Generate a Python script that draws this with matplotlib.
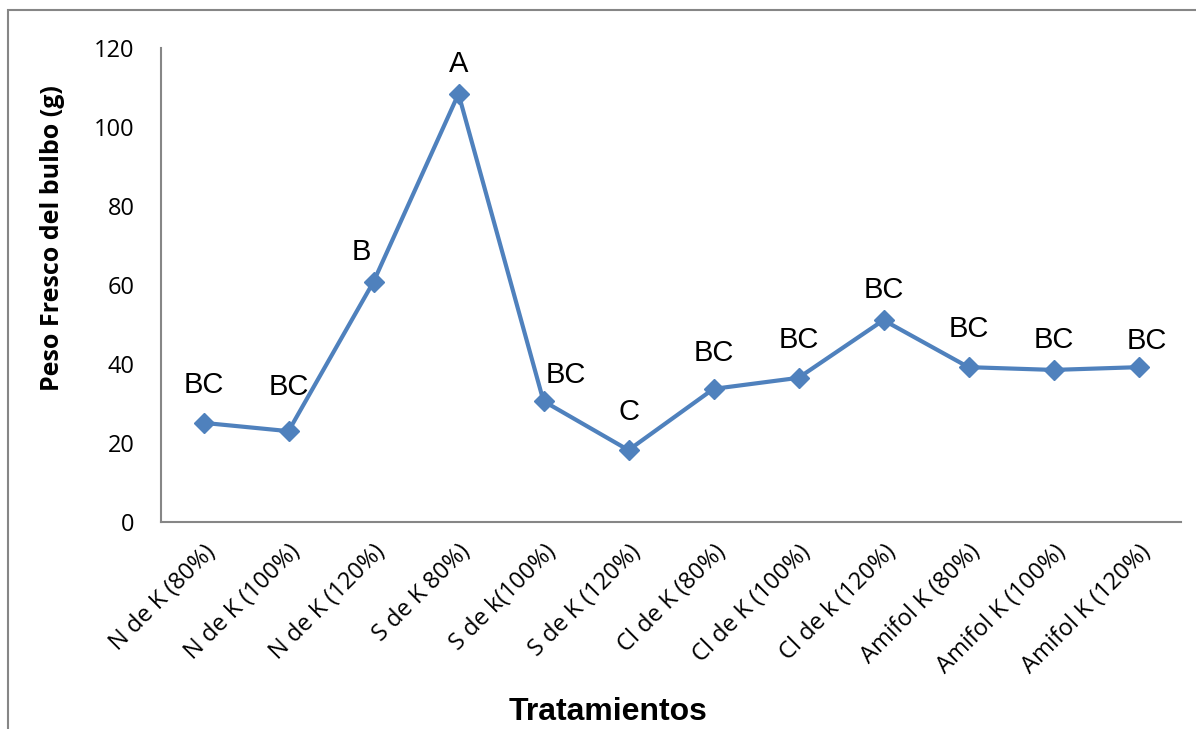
import matplotlib.pyplot as plt
from matplotlib.patches import Rectangle

# fresh bulb weight per treatment, with Tukey letters
tratamientos = ['N de K (80%)', 'N de K (100%)', 'N de K (120%)', 'S de K 80%)',
                'S de k(100%)', 'S de K (120%)', 'Cl de K (80%)', 'Cl de K (100%)',
                'Cl de k (120%)', 'Amifol K (80%)', 'Amifol K (100%)', 'Amifol K (120%)']
peso = [25.1, 23.0, 60.8, 108.4, 30.6, 18.2, 33.7, 36.5, 51.1, 39.2, 38.5, 39.2]
letras = ['BC', 'BC', 'B', 'A', 'BC', 'C', 'BC', 'BC', 'BC', 'BC', 'BC', 'BC']

# label offsets (pixels) so the letters clear the line
offsets = [(0, 24), (0, 30), (-12, 16), (0, 16), (22, 12), (0, 24),
           (0, 22), (0, 24), (0, 16), (0, 24), (0, 16), (8, 12)]

azul = '#4F81BD'
gris = '#868686'

fig = plt.figure(figsize=(11.96, 7.29), dpi=100)
ax = fig.add_axes([161/1196, 1 - 522/729, 1020/1196, 474/729])

xs = list(range(len(peso)))
ax.plot(xs, peso, color=azul, lw=3, marker='D', markersize=10.5, zorder=3)

for x, y, t, (dx, dy) in zip(xs, peso, letras, offsets):
    ax.annotate(t, (x, y), xytext=(dx, dy), textcoords='offset pixels',
                ha='center', va='bottom', fontsize=21, family='Liberation Sans')

ax.set_xlim(-0.5, len(peso) - 0.5)
ax.set_ylim(0, 120)
ax.set_yticks(range(0, 121, 20))
ax.set_xticks(xs)
ax.set_xticklabels(tratamientos, rotation=45, ha='right', rotation_mode='anchor',
                   fontsize=17, family='Open Sans')
for lab in ax.get_yticklabels():
    lab.set_fontsize(17)
    lab.set_family('Open Sans')
ax.tick_params(length=0)
ax.tick_params(axis='y', pad=19)
ax.tick_params(axis='x', pad=13)

for s in ['top', 'right']:
    ax.spines[s].set_visible(False)
for s in ['left', 'bottom']:
    ax.spines[s].set_color(gris)
    ax.spines[s].set_linewidth(1.5)

ax.set_ylabel('Peso Fresco del bulbo (g)', fontsize=18, fontweight='bold',
              family='Open Sans')
ax.yaxis.set_label_coords(-0.094, 0.6)
fig.text(608/1196, 1 - 712/729, 'Tratamientos', ha='center', va='center',
         fontsize=23, fontweight='bold', family='Liberation Sans')

# chart area border
fig.patches.append(Rectangle((8/1196, -0.1), 1.2, 1.1 - 10/729,
                             transform=fig.transFigure, fill=False,
                             edgecolor=gris, lw=1.5))

fig.savefig('out.png', dpi=100)
